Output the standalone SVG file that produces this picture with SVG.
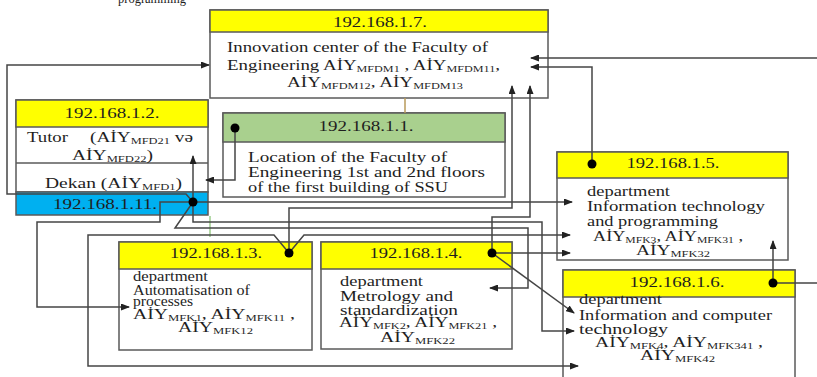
<svg xmlns="http://www.w3.org/2000/svg" width="817" height="377" viewBox="0 0 817 377">
<style>
.box{fill:#ffffff;stroke:#5a5a5a;stroke-width:1.5}
.yel{fill:#ffff00;stroke:#5a5a5a;stroke-width:1.5}
.grn{fill:#a9d08e;stroke:#5a5a5a;stroke-width:1.5}
.blu{fill:#00b0f0;stroke:#5a5a5a;stroke-width:1.5}
.t{font-family:"Liberation Serif","Times New Roman",serif;font-size:14px;fill:#1e1e1e}
.m{text-anchor:middle}
.s{font-size:9px}
.c{fill:none;stroke:#454545;stroke-width:1.5}
.a{marker-end:url(#arr)}
.dot{fill:#000000}
</style>
<defs>
<marker id="arr" markerWidth="9" markerHeight="7" refX="8" refY="3.5" orient="auto" markerUnits="userSpaceOnUse">
<path d="M0,0 L9,3.5 L0,7 z" fill="#222222"/>
</marker>
</defs>
<rect width="817" height="377" fill="#ffffff"/>
<text class="t" x="118" y="3" textLength="68" lengthAdjust="spacingAndGlyphs">programming</text>

<g id="node-1-7">
<rect class="box" x="210" y="10" width="338" height="88"/>
<rect class="yel" x="210" y="10" width="338" height="22"/>
<text class="t m" x="380" y="27" textLength="94" lengthAdjust="spacingAndGlyphs">192.168.1.7.</text>
<text class="t" x="227" y="52" textLength="261" lengthAdjust="spacingAndGlyphs">Innovation center of the Faculty of</text>
<text class="t" x="227" y="70" textLength="273" lengthAdjust="spacingAndGlyphs">Engineering AİY<tspan class="s" dy="1.5">MFDM1</tspan><tspan dy="-1.5"> , AİY</tspan><tspan class="s" dy="1.5">MFDM11</tspan><tspan dy="-1.5">,</tspan></text>
<text class="t" x="287" y="87" textLength="176" lengthAdjust="spacingAndGlyphs">AİY<tspan class="s" dy="1.5">MFDM12</tspan><tspan dy="-1.5">, AİY</tspan><tspan class="s" dy="1.5">MFDM13</tspan></text>
</g>

<g id="node-1-2">
<rect class="box" x="16" y="100" width="192" height="92"/>
<rect class="yel" x="16" y="100" width="192" height="27"/>
<line x1="16" y1="163" x2="208" y2="163" stroke="#5a5a5a" stroke-width="1.5"/>
<text class="t m" x="112" y="118" textLength="95" lengthAdjust="spacingAndGlyphs">192.168.1.2.</text>
<text class="t" x="27" y="142" textLength="41" lengthAdjust="spacingAndGlyphs">Tutor</text>
<text class="t" x="90" y="142" textLength="103" lengthAdjust="spacingAndGlyphs">(AİY<tspan class="s" dy="1.5">MFD21</tspan><tspan dy="-1.5"> və</tspan></text>
<text class="t" x="72" y="160" textLength="81" lengthAdjust="spacingAndGlyphs">AİY<tspan class="s" dy="1.5">MFD22</tspan><tspan dy="-1.5">)</tspan></text>
<text class="t" x="45" y="188" textLength="137" lengthAdjust="spacingAndGlyphs">Dekan (AİY<tspan class="s" dy="1.5">MFD1</tspan><tspan dy="-1.5">)</tspan></text>
</g>

<g id="node-1-11">
<rect class="blu" x="16" y="192" width="192" height="23"/>
<text class="t m" x="105" y="209" textLength="104" lengthAdjust="spacingAndGlyphs">192.168.1.11.</text>
</g>

<g id="node-1-1">
<rect class="box" x="223" y="113" width="282" height="84"/>
<rect class="grn" x="223" y="113" width="282" height="29"/>
<text class="t m" x="366" y="131" textLength="95" lengthAdjust="spacingAndGlyphs">192.168.1.1.</text>
<text class="t" x="248" y="162" textLength="199" lengthAdjust="spacingAndGlyphs">Location of the Faculty of</text>
<text class="t" x="248" y="177" textLength="237" lengthAdjust="spacingAndGlyphs">Engineering 1st and 2nd floors</text>
<text class="t" x="248" y="192" textLength="200" lengthAdjust="spacingAndGlyphs">of the first building of SSU</text>
</g>

<g id="node-1-5">
<rect class="box" x="557" y="152" width="231" height="108"/>
<rect class="yel" x="557" y="152" width="231" height="26"/>
<text class="t m" x="673" y="168" textLength="93" lengthAdjust="spacingAndGlyphs">192.168.1.5.</text>
<text class="t" x="587" y="196" textLength="83" lengthAdjust="spacingAndGlyphs">department</text>
<text class="t" x="587" y="211" textLength="178" lengthAdjust="spacingAndGlyphs">Information technology</text>
<text class="t" x="587" y="226" textLength="131" lengthAdjust="spacingAndGlyphs">and programming</text>
<text class="t" x="593" y="241" textLength="150" lengthAdjust="spacingAndGlyphs">AİY<tspan class="s" dy="1.5">MFK3</tspan><tspan dy="-1.5">, AİY</tspan><tspan class="s" dy="1.5">MFK31</tspan><tspan dy="-1.5"> ,</tspan></text>
<text class="t" x="636" y="255" textLength="74" lengthAdjust="spacingAndGlyphs">AİY<tspan class="s" dy="1.5">MFK32</tspan></text>
</g>

<g id="node-1-3">
<rect class="box" x="119" y="242" width="193" height="108"/>
<rect class="yel" x="119" y="242" width="193" height="27"/>
<text class="t m" x="216" y="258" textLength="92" lengthAdjust="spacingAndGlyphs">192.168.1.3.</text>
<text class="t" x="133" y="281" textLength="75" lengthAdjust="spacingAndGlyphs">department</text>
<text class="t" x="133" y="295" textLength="117" lengthAdjust="spacingAndGlyphs">Automatisation of</text>
<text class="t" x="133" y="306" textLength="60" lengthAdjust="spacingAndGlyphs">processes</text>
<text class="t" x="133" y="319" textLength="162" lengthAdjust="spacingAndGlyphs">AİY<tspan class="s" dy="1.5">MFK1</tspan><tspan dy="-1.5">, AİY</tspan><tspan class="s" dy="1.5">MFK11</tspan><tspan dy="-1.5"> ,</tspan></text>
<text class="t" x="178" y="332" textLength="75" lengthAdjust="spacingAndGlyphs">AİY<tspan class="s" dy="1.5">MFK12</tspan></text>
</g>

<g id="node-1-4">
<rect class="box" x="321" y="242" width="191" height="107"/>
<rect class="yel" x="321" y="242" width="191" height="27"/>
<text class="t m" x="416" y="258" textLength="93" lengthAdjust="spacingAndGlyphs">192.168.1.4.</text>
<text class="t" x="340" y="286" textLength="83" lengthAdjust="spacingAndGlyphs">department</text>
<text class="t" x="340" y="301" textLength="113" lengthAdjust="spacingAndGlyphs">Metrology and</text>
<text class="t" x="340" y="315" textLength="118" lengthAdjust="spacingAndGlyphs">standardization</text>
<text class="t" x="339" y="327" textLength="158" lengthAdjust="spacingAndGlyphs">AİY<tspan class="s" dy="1.5">MFK2</tspan><tspan dy="-1.5">, AİY</tspan><tspan class="s" dy="1.5">MFK21</tspan><tspan dy="-1.5"> ,</tspan></text>
<text class="t" x="380" y="342" textLength="75" lengthAdjust="spacingAndGlyphs">AİY<tspan class="s" dy="1.5">MFK22</tspan></text>
</g>

<g id="node-1-6">
<rect class="box" x="563" y="270" width="232" height="120"/>
<rect class="yel" x="563" y="270" width="232" height="27"/>
<text class="t m" x="677" y="287" textLength="95" lengthAdjust="spacingAndGlyphs">192.168.1.6.</text>
<text class="t" x="579" y="304" textLength="83" lengthAdjust="spacingAndGlyphs">department</text>
<text class="t" x="579" y="320" textLength="193" lengthAdjust="spacingAndGlyphs">Information and computer</text>
<text class="t" x="579" y="334" textLength="89" lengthAdjust="spacingAndGlyphs">technology</text>
<text class="t" x="595" y="347" textLength="168" lengthAdjust="spacingAndGlyphs">AİY<tspan class="s" dy="1.5">MFK4</tspan><tspan dy="-1.5">, AİY</tspan><tspan class="s" dy="1.5">MFK341</tspan><tspan dy="-1.5"> ,</tspan></text>
<text class="t" x="640" y="360" textLength="75" lengthAdjust="spacingAndGlyphs">AİY<tspan class="s" dy="1.5">MFK42</tspan></text>
</g>

<g id="connectors">
<path class="c" d="M405,98 V113" style="stroke:#b89a5a"/>
<path class="c" d="M210,216 V237" style="stroke:#9ccc8c"/>
<path class="c a" d="M193,202 H572"/>
<path class="c a" d="M289,253 V208 H512 V86"/>
<path class="c a" d="M492,253 V217 H530 V86"/>
<path class="c a" d="M193,202 V222 H542 V331 H574"/>
<path class="c a" d="M193,202 L175,228 H528 V288 H490"/>
<path class="c a" d="M289,253 L304,235 H570"/>
<path class="c a" d="M289,253 L274,235 H88 V366 H578"/>
<path class="c a" d="M492,253 H570"/>
<path class="c a" d="M492,253 L574,313"/>
<path class="c a" d="M193,202 H160 V222 H37 V307 H129"/>
<path class="c a" d="M193,202 V156"/>
<path class="c a" d="M193,202 L186,194 H7 V65 H209"/>
<path class="c a" d="M235,128 V180 H206"/>
<path class="c a" d="M592,164 V67 H531"/>
<path class="c a" d="M817,58 H531"/>
<path class="c a" d="M773,283 V241"/>
<path class="c" d="M773,283 H817"/>
<circle class="dot" cx="193" cy="202" r="4.5"/>
<circle class="dot" cx="235" cy="128" r="4.5"/>
<circle class="dot" cx="289" cy="253" r="4.5"/>
<circle class="dot" cx="492" cy="253" r="4.5"/>
<circle class="dot" cx="592" cy="164" r="4.5"/>
<circle class="dot" cx="773" cy="283" r="4.5"/>
</g>
</svg>
